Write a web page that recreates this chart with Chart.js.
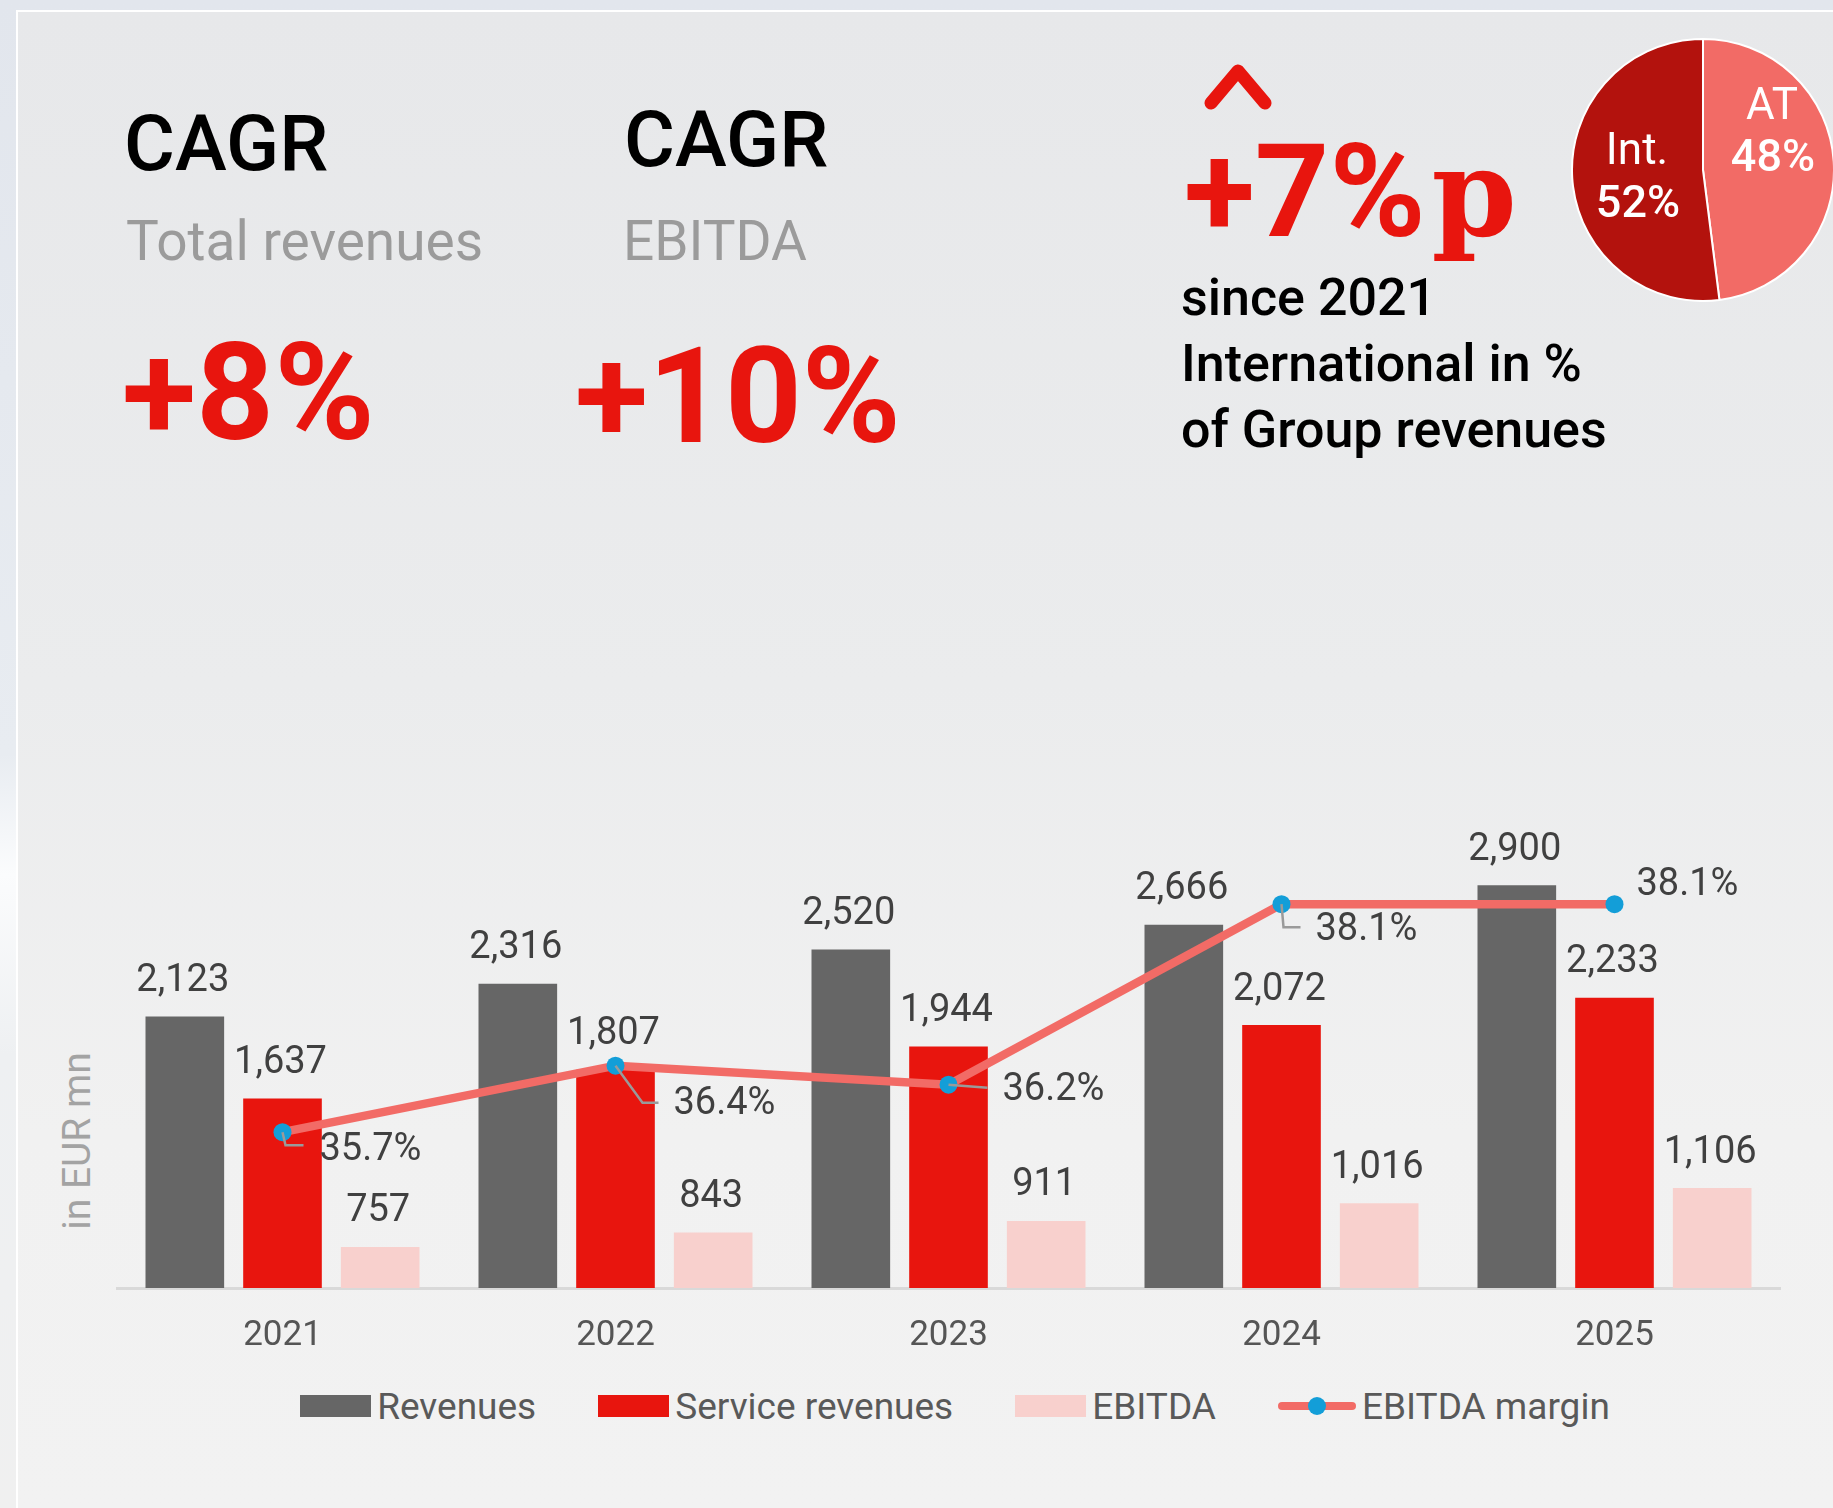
<!DOCTYPE html>
<html>
<head>
<meta charset="utf-8">
<script src="https://cdn.jsdelivr.net/npm/chart.js@4"></script>
<style>
  html, body { margin: 0; padding: 0; }
  body {
    width: 1833px; height: 1508px; position: relative; overflow: hidden;
    font-family: Roboto, sans-serif;
    background: linear-gradient(to bottom, #e2e6ed 0%, #e8ecf1 50%, #fbfcfd 58%, #eef0f2 70%, #f0f0f0 100%);
  }
  #panel {
    position: absolute; left: 16px; top: 10px; right: 0; bottom: 0;
    border-left: 2px solid #fff; border-top: 2px solid #fff;
    background: linear-gradient(to bottom, #e7e8ea 0%, #ebeced 45%, #f1f1f1 75%, #f2f2f2 100%);
  }
  .t { position: absolute; white-space: nowrap; line-height: 1; }
  .cagr { font-size: 78px; font-weight: 500; color: #000; }
  .sub { font-size: 55px; color: #9b9b9b; }
  .big { font-size: 136px; font-weight: 700; color: #e8150e; }
  #since { left: 1181px; top: 265px; font-size: 52px; line-height: 66px; font-weight: 500; color: #000; }
  #pp { left: 1184px; top: 127px; font-size: 130px; font-weight: 700; color: #e8150e; }
  #pp .p { font-family: "DejaVu Serif", serif; font-size: 122px; margin-left: 6px; }
  #ytitle { left: 77px; top: 1141px; font-size: 39px; font-weight: 400; color: #a3a3a3;
            transform: translate(-50%, -50%) rotate(-90deg); }
  #legend { position: absolute; left: 0; width: 1910px; top: 1384px; height: 44px;
            display: flex; justify-content: center; align-items: center; gap: 62px; }
  .li { display: flex; align-items: center; font-size: 37px; color: #595959; }
  .sw { width: 71px; height: 22px; margin-right: 6px; position: relative; }
</style>
</head>
<body>
<div id="panel"></div>

<div class="t cagr" style="left:124px; top:105px;">CAGR</div>
<div class="t sub" style="left:126px; top:214px;">Total revenues</div>
<div class="t big" style="left:122px; top:325px;">+8%</div>

<div class="t cagr" style="left:624px; top:101px;">CAGR</div>
<div class="t sub" style="left:623px; top:214px;">EBITDA</div>
<div class="t big" style="left:575px; top:330px; font-size:134px;">+10%</div>

<svg style="position:absolute; left:1195px; top:55px;" width="90" height="65">
  <polyline points="16,48 43,16 70,48" fill="none" stroke="#e8150e" stroke-width="13" stroke-linecap="round" stroke-linejoin="round"/>
</svg>
<div class="t" id="pp">+7%<span class="p">p</span></div>
<div class="t" id="since">since 2021<br>International in %<br>of Group revenues</div>

<canvas id="pie" width="264" height="264" style="position:absolute; left:1571px; top:38px;"></canvas>

<div class="t" id="ytitle">in EUR mn</div>
<canvas id="main" width="1665" height="760" style="position:absolute; left:116px; top:600px;"></canvas>
<div id="legend"></div>

<script>
const years = ['2021', '2022', '2023', '2024', '2025'];
const revenues = [2123, 2316, 2520, 2666, 2900];
const serviceRevenues = [1637, 1807, 1944, 2072, 2233];
const ebitda = [757, 843, 911, 1016, 1106];
const ebitdaMargin = [35.7, 36.4, 36.2, 38.1, 38.1];

const shareLabels = ['AT', 'Int.'];
const shareValues = [48, 52];

const seriesNames = ['Revenues', 'Service revenues', 'EBITDA', 'EBITDA margin'];
const colors = { rev: '#666666', svc: '#e8150e', ebitda: '#f8d0cd', line: '#f26b66', dot: '#139ed8' };

// both value axes start above zero, as in the original
const yMin = 514, pxPerEur = 0.1688;
const y2Min = 34.06, pxPerPct = 95;
const baselineY = 1288;

// label placement for the margin line (offsets from the point, and leader line path)
const marginLabelOffsets = [[37, 18], [58, 39], [54, 6], [34, 26], [22, -19]];
const marginLeaders = [
  [[0, 0], [3, 13], [21, 13]],
  [[0, 0], [27, 37], [43, 37]],
  [[0, 0], [39, 3]],
  [[0, 0], [2, 23], [19, 23]],
  null
];

const fmt = v => v.toLocaleString('en-US');

const valueLabels = {
  id: 'valueLabels',
  afterDatasetsDraw(chart) {
    const ctx = chart.ctx;
    ctx.save();
    ctx.font = '38px Roboto';
    ctx.fillStyle = '#404040';
    ctx.textBaseline = 'middle';
    chart.data.datasets.forEach((ds, i) => {
      const meta = chart.getDatasetMeta(i);
      meta.data.forEach((el, j) => {
        if (ds.type === 'line') {
          const lead = marginLeaders[j];
          if (lead) {
            ctx.strokeStyle = '#9a9a9a';
            ctx.lineWidth = 2.5;
            ctx.beginPath();
            lead.forEach((p, k) => k ? ctx.lineTo(el.x + p[0], el.y + p[1]) : ctx.moveTo(el.x + p[0], el.y + p[1]));
            ctx.stroke();
          }
          const o = marginLabelOffsets[j];
          ctx.textAlign = 'left';
          ctx.fillText(ds.data[j].toFixed(1) + '%', el.x + o[0], el.y + o[1]);
        } else {
          ctx.textAlign = 'center';
          ctx.fillText(fmt(ds.data[j]), el.x - 2, el.y - 35);
        }
      });
    });
    ctx.restore();
  }
};

const mainCanvas = document.getElementById('main');
const main = new Chart(mainCanvas, {
  data: {
    labels: years,
    datasets: [
      { type: 'line', label: seriesNames[3], data: ebitdaMargin, yAxisID: 'y2', order: 0,
        borderColor: colors.line, borderWidth: 8.5, pointRadius: 9, pointHoverRadius: 9,
        pointBackgroundColor: colors.dot, pointBorderWidth: 0, tension: 0 },
      { type: 'bar', label: seriesNames[0], data: revenues, backgroundColor: colors.rev, order: 1 },
      { type: 'bar', label: seriesNames[1], data: serviceRevenues, backgroundColor: colors.svc, order: 1 },
      { type: 'bar', label: seriesNames[2], data: ebitda, backgroundColor: colors.ebitda, order: 1 }
    ]
  },
  options: {
    responsive: false,
    animation: false,
    devicePixelRatio: 1,
    layout: { padding: 0, autoPadding: false },
    datasets: { bar: { categoryPercentage: 0.88, barPercentage: 0.805 } },
    plugins: { legend: { display: false }, tooltip: { enabled: false } },
    scales: {
      x: {
        grid: { display: false, drawTicks: false },
        border: { display: true, color: '#d9d9d9', width: 3 },
        ticks: { font: { family: 'Roboto', size: 35 }, color: '#555555', padding: 27 }
      },
      y: { display: false, min: yMin, max: 4600 },
      y2: { display: false, position: 'right', min: y2Min, max: 41.3 }
    }
  },
  plugins: [valueLabels]
});

// fit the value ranges to the plot height so the baseline sits where the original has it
const area = main.chartArea;
const plotH = area.bottom - area.top;
main.options.scales.y.max = yMin + plotH / pxPerEur;
main.options.scales.y2.max = y2Min + plotH / pxPerPct;
mainCanvas.style.top = (baselineY - area.bottom) + 'px';
main.update();

// legend built from the datasets
const legend = document.getElementById('legend');
[1, 2, 3, 0].forEach(i => {
  const ds = main.data.datasets[i];
  const item = document.createElement('div');
  item.className = 'li';
  const sw = document.createElement('div');
  sw.className = 'sw';
  if (ds.type === 'line') {
    sw.style.width = '78px';
    sw.innerHTML = '<div style="position:absolute;left:0;right:0;top:7px;height:8px;border-radius:4px;background:' + ds.borderColor + '"></div>' +
      '<div style="position:absolute;left:30px;top:2px;width:18px;height:18px;border-radius:50%;background:' + ds.pointBackgroundColor + '"></div>';
  } else {
    sw.style.background = ds.backgroundColor;
  }
  const tx = document.createElement('span');
  tx.textContent = ds.label;
  item.appendChild(sw);
  item.appendChild(tx);
  legend.appendChild(item);
});

const pieLabels = {
  id: 'pieLabels',
  afterDatasetsDraw(chart) {
    const ctx = chart.ctx;
    const arc = chart.getDatasetMeta(0).data[0];
    const cx = arc.x, cy = arc.y;
    const blocks = [[[69, -62], [70, -10]], [[-66, -17], [-65, 36]]];
    ctx.save();
    ctx.fillStyle = '#ffffff';
    ctx.textAlign = 'center';
    ctx.textBaseline = 'middle';
    chart.data.labels.forEach((lab, i) => {
      const b = blocks[i];
      ctx.font = '44px Roboto';
      ctx.fillText(lab, cx + b[0][0], cy + b[0][1]);
      ctx.font = '500 45px Roboto';
      ctx.fillText(chart.data.datasets[0].data[i] + '%', cx + b[1][0], cy + b[1][1]);
    });
    ctx.restore();
  }
};

new Chart(document.getElementById('pie'), {
  type: 'pie',
  data: {
    labels: shareLabels,
    datasets: [{ data: shareValues, backgroundColor: [colors.line, '#b3120d'], borderColor: '#ffffff', borderWidth: 2 }]
  },
  options: {
    responsive: false,
    animation: false,
    devicePixelRatio: 1,
    layout: { padding: 0 },
    plugins: { legend: { display: false }, tooltip: { enabled: false } }
  },
  plugins: [pieLabels]
});
</script>
</body>
</html>
